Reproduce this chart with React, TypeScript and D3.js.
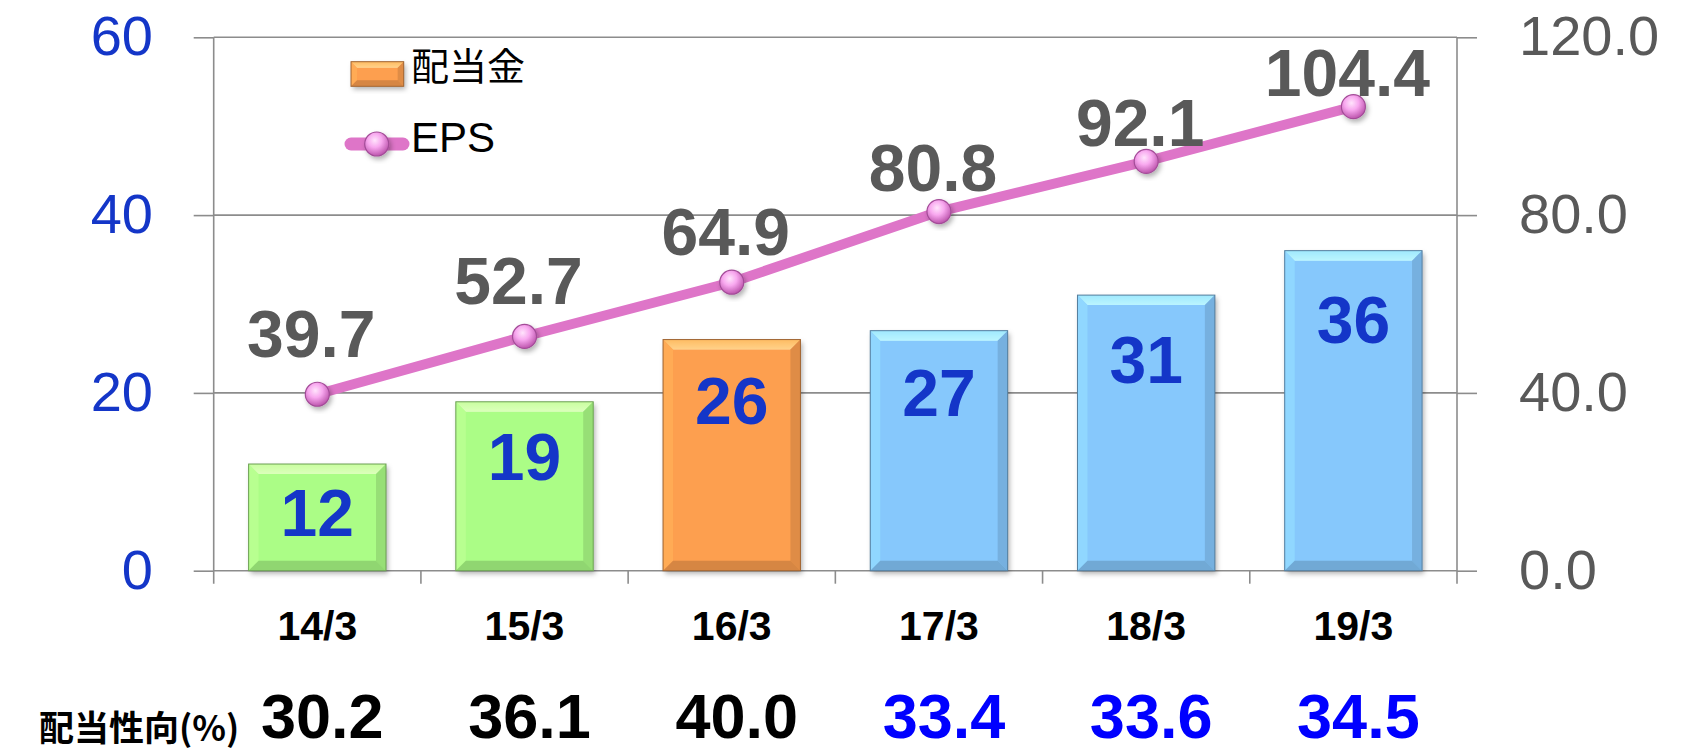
import React, { useEffect, useRef } from 'react'
import * as d3 from 'd3'

const categories = ['14/3', '15/3', '16/3', '17/3', '18/3', '19/3']
const dividend = [12, 19, 26, 27, 31, 36]
const eps = [39.7, 52.7, 64.9, 80.8, 92.1, 104.4]
const payout = [30.2, 36.1, 40.0, 33.4, 33.6, 34.5]
const barKind = ['past', 'past', 'current', 'plan', 'plan', 'plan']
const leftTicks = [0, 20, 40, 60]
const rightTicks = [0, 40, 80, 120]

const W = 1694
const H = 752
const margin = { top: 37.3, right: 237, bottom: 181.3, left: 213.7 }

const kindColor: Record<string, string> = {
  past: '#abfd86',
  current: '#fd9f4f',
  plan: '#86c8fc',
}

const latin = '"Liberation Sans", Arial, sans-serif'
const cjk = '"Noto Sans CJK JP", "Noto Sans", sans-serif'

// excel-ish bevelled rectangle
function bevelRect(g: any, x: number, y: number, w: number, h: number, base: string, b: number) {
  const c = d3.color(base) as any
  const grp = g.append('g')
  grp.append('rect')
    .attr('x', x).attr('y', y).attr('width', w).attr('height', h)
    .attr('fill', base)
    .attr('filter', 'url(#shadow)')
  const poly = (pts: number[][], fill: string, op = 1) => grp.append('polygon')
    .attr('points', pts.map(p => p.join(',')).join(' '))
    .attr('fill', fill)
    .attr('opacity', op)
  poly([[x, y], [x + w, y], [x + w - b, y + b], [x + b, y + b]], 'url(#topBevel)', 1)
  poly([[x, y], [x + w, y], [x + w - b, y + b], [x + b, y + b]], c.brighter(0.7).formatHex(), 0.55)
  poly([[x, y], [x + b, y + b], [x + b, y + h - b], [x, y + h]], c.brighter(0.25).formatHex(), 0.8)
  poly([[x + w, y], [x + w, y + h], [x + w - b, y + h - b], [x + w - b, y + b]], c.darker(0.45).formatHex(), 0.8)
  poly([[x, y + h], [x + b, y + h - b], [x + w - b, y + h - b], [x + w, y + h]], c.darker(0.6).formatHex(), 0.8)
  grp.append('rect')
    .attr('x', x).attr('y', y).attr('width', w).attr('height', h)
    .attr('fill', 'none')
    .attr('stroke', c.darker(1.3).formatHex())
    .attr('stroke-width', 1)
}

function marker(g: any, cx: number, cy: number, r: number) {
  g.append('circle')
    .attr('cx', cx).attr('cy', cy).attr('r', r)
    .attr('fill', 'url(#markerGrad)')
    .attr('stroke', '#a34c98')
    .attr('stroke-width', 1.2)
    .attr('filter', 'url(#shadow)')
}

const App = () => {
  const ref = useRef<SVGSVGElement>(null)

  useEffect(() => {
    const svg = d3.select(ref.current)
    svg.selectAll('*').remove()

    const defs = svg.append('defs')
    const sh = defs.append('filter').attr('id', 'shadow')
      .attr('x', '-20%').attr('y', '-20%').attr('width', '150%').attr('height', '150%')
    sh.append('feDropShadow')
      .attr('dx', 2).attr('dy', 3).attr('stdDeviation', 2.5)
      .attr('flood-color', '#000').attr('flood-opacity', 0.3)

    const tb = defs.append('linearGradient').attr('id', 'topBevel')
      .attr('x1', 0).attr('y1', 0).attr('x2', 0).attr('y2', 1)
    tb.append('stop').attr('offset', 0).attr('stop-color', '#ffffff').attr('stop-opacity', 0.1)
    tb.append('stop').attr('offset', 1).attr('stop-color', '#ffffff').attr('stop-opacity', 0.6)

    const mg = defs.append('radialGradient').attr('id', 'markerGrad')
      .attr('cx', '42%').attr('cy', '35%').attr('r', '65%')
    mg.append('stop').attr('offset', 0).attr('stop-color', '#ffe4fc')
    mg.append('stop').attr('offset', 0.45).attr('stop-color', '#f8a8ef')
    mg.append('stop').attr('offset', 1).attr('stop-color', '#bd55ad')

    const x = d3.scaleBand()
      .domain(categories)
      .range([margin.left, W - margin.right])
      .paddingInner(0.337)
      .paddingOuter(0.337 / 2)

    const step = x.step()
    const bandStart = (c: string) => x(c)! - x.paddingOuter() * step
    const cx = (c: string) => x(c)! + x.bandwidth() / 2

    const yL = d3.scaleLinear().domain([0, 60]).range([H - margin.bottom, margin.top])
    const yR = d3.scaleLinear().domain([0, 120]).range([H - margin.bottom, margin.top])

    const grid = '#8c8c8c'

    // gridlines + outer ticks
    svg.append('g')
      .attr('transform', `translate(${margin.left},0)`)
      .call(d3.axisLeft(yL).tickValues(leftTicks).tickSize(20).tickFormat(() => ''))
      .call(g => g.select('.domain').remove())
      .call(g => g.selectAll('line').attr('stroke', grid).attr('stroke-width', 1.6))
    svg.append('g')
      .attr('transform', `translate(${W - margin.right},0)`)
      .call(d3.axisRight(yR).tickValues(rightTicks).tickSize(20).tickFormat(() => ''))
      .call(g => g.select('.domain').remove())
      .call(g => g.selectAll('line').attr('stroke', grid).attr('stroke-width', 1.6))
    svg.append('g')
      .selectAll('line')
      .data(leftTicks)
      .join('line')
      .attr('x1', margin.left).attr('x2', W - margin.right)
      .attr('y1', d => yL(d)).attr('y2', d => yL(d))
      .attr('stroke', grid).attr('stroke-width', 1.6)

    // vertical axis lines
    ;[margin.left, W - margin.right].forEach(vx => {
      svg.append('line')
        .attr('x1', vx).attr('x2', vx)
        .attr('y1', margin.top).attr('y2', yL(0) + 13)
        .attr('stroke', grid).attr('stroke-width', 1.6)
    })
    // category boundary ticks
    svg.append('g')
      .selectAll('line')
      .data(categories.slice(1))
      .join('line')
      .attr('x1', d => bandStart(d)).attr('x2', d => bandStart(d))
      .attr('y1', yL(0)).attr('y2', yL(0) + 13)
      .attr('stroke', grid).attr('stroke-width', 1.6)

    // axis labels
    svg.append('g')
      .selectAll('text')
      .data(leftTicks)
      .join('text')
      .attr('x', 153)
      .attr('y', d => yL(d) + 18)
      .attr('text-anchor', 'end')
      .attr('font-family', latin)
      .attr('font-size', 56)
      .attr('fill', '#1436c8')
      .text(d => d)
    svg.append('g')
      .selectAll('text')
      .data(rightTicks)
      .join('text')
      .attr('x', 1519)
      .attr('y', d => yR(d) + 18)
      .attr('text-anchor', 'start')
      .attr('font-family', latin)
      .attr('font-size', 56)
      .attr('fill', '#595959')
      .text(d => d.toFixed(1))

    // bars
    const bars = svg.append('g')
    categories.forEach((c, i) => {
      const v = dividend[i]
      bevelRect(bars, x(c)!, yL(v), x.bandwidth(), yL(0) - yL(v), kindColor[barKind[i]], 10)
    })
    svg.append('g')
      .selectAll('text')
      .data(dividend)
      .join('text')
      .attr('x', (d, i) => cx(categories[i]))
      .attr('y', d => yL(d) + 38 + 0.85 * d + 24)
      .attr('text-anchor', 'middle')
      .attr('font-family', latin)
      .attr('font-weight', 'bold')
      .attr('font-size', 66)
      .attr('fill', '#1436c8')
      .text(d => d)

    // EPS line
    const line = d3.line<number>()
      .x((d, i) => cx(categories[i]))
      .y(d => yR(d))
    svg.append('path')
      .datum(eps)
      .attr('d', line)
      .attr('fill', 'none')
      .attr('stroke', '#de75c8')
      .attr('stroke-width', 10)
      .attr('stroke-linejoin', 'round')
    const mk = svg.append('g')
    eps.forEach((v, i) => marker(mk, cx(categories[i]), yR(v), 12))
    svg.append('g')
      .selectAll('text')
      .data(eps)
      .join('text')
      .attr('x', (d, i) => cx(categories[i]) - 6)
      .attr('y', d => yR(d) - (54 - 0.415 * d))
      .attr('text-anchor', 'middle')
      .attr('font-family', latin)
      .attr('font-weight', 'bold')
      .attr('font-size', 66)
      .attr('fill', '#595959')
      .text(d => d.toFixed(1))

    // category labels
    svg.append('g')
      .selectAll('text')
      .data(categories)
      .join('text')
      .attr('x', d => cx(d))
      .attr('y', 640)
      .attr('text-anchor', 'middle')
      .attr('font-family', latin)
      .attr('font-weight', 'bold')
      .attr('font-size', 41)
      .attr('fill', '#000')
      .text(d => d)

    // payout ratio row
    svg.append('text')
      .attr('x', 39).attr('y', 741)
      .attr('font-family', cjk)
      .attr('font-weight', 'bold')
      .attr('font-size', 35)
      .attr('fill', '#000')
      .text('配当性向(%)')
    svg.append('g')
      .selectAll('text')
      .data(payout)
      .join('text')
      .attr('x', (d, i) => cx(categories[i]) + 5)
      .attr('y', 738)
      .attr('text-anchor', 'middle')
      .attr('font-family', latin)
      .attr('font-weight', 'bold')
      .attr('font-size', 63)
      .attr('fill', (d, i) => barKind[i] === 'plan' ? '#0000ff' : '#000')
      .text(d => d.toFixed(1))

    // legend
    const lg = svg.append('g')
    bevelRect(lg, 351, 61.7, 52.7, 24.6, kindColor.current, 6)
    lg.append('text')
      .attr('x', 411).attr('y', 80)
      .attr('font-family', cjk)
      .attr('font-size', 38)
      .attr('fill', '#000')
      .text('配当金')
    lg.append('line')
      .attr('x1', 351).attr('x2', 403)
      .attr('y1', 144).attr('y2', 144)
      .attr('stroke', '#de75c8')
      .attr('stroke-width', 13)
      .attr('stroke-linecap', 'round')
    marker(lg, 376.7, 144, 12)
    lg.append('text')
      .attr('x', 411).attr('y', 151.7)
      .attr('font-family', latin)
      .attr('font-size', 42)
      .attr('fill', '#000')
      .text('EPS')
  }, [])

  return (
    <svg ref={ref} width={W} height={H}
      style={{ position: 'absolute', left: 0, top: 0, background: '#fff' }} />
  )
}

export default App
